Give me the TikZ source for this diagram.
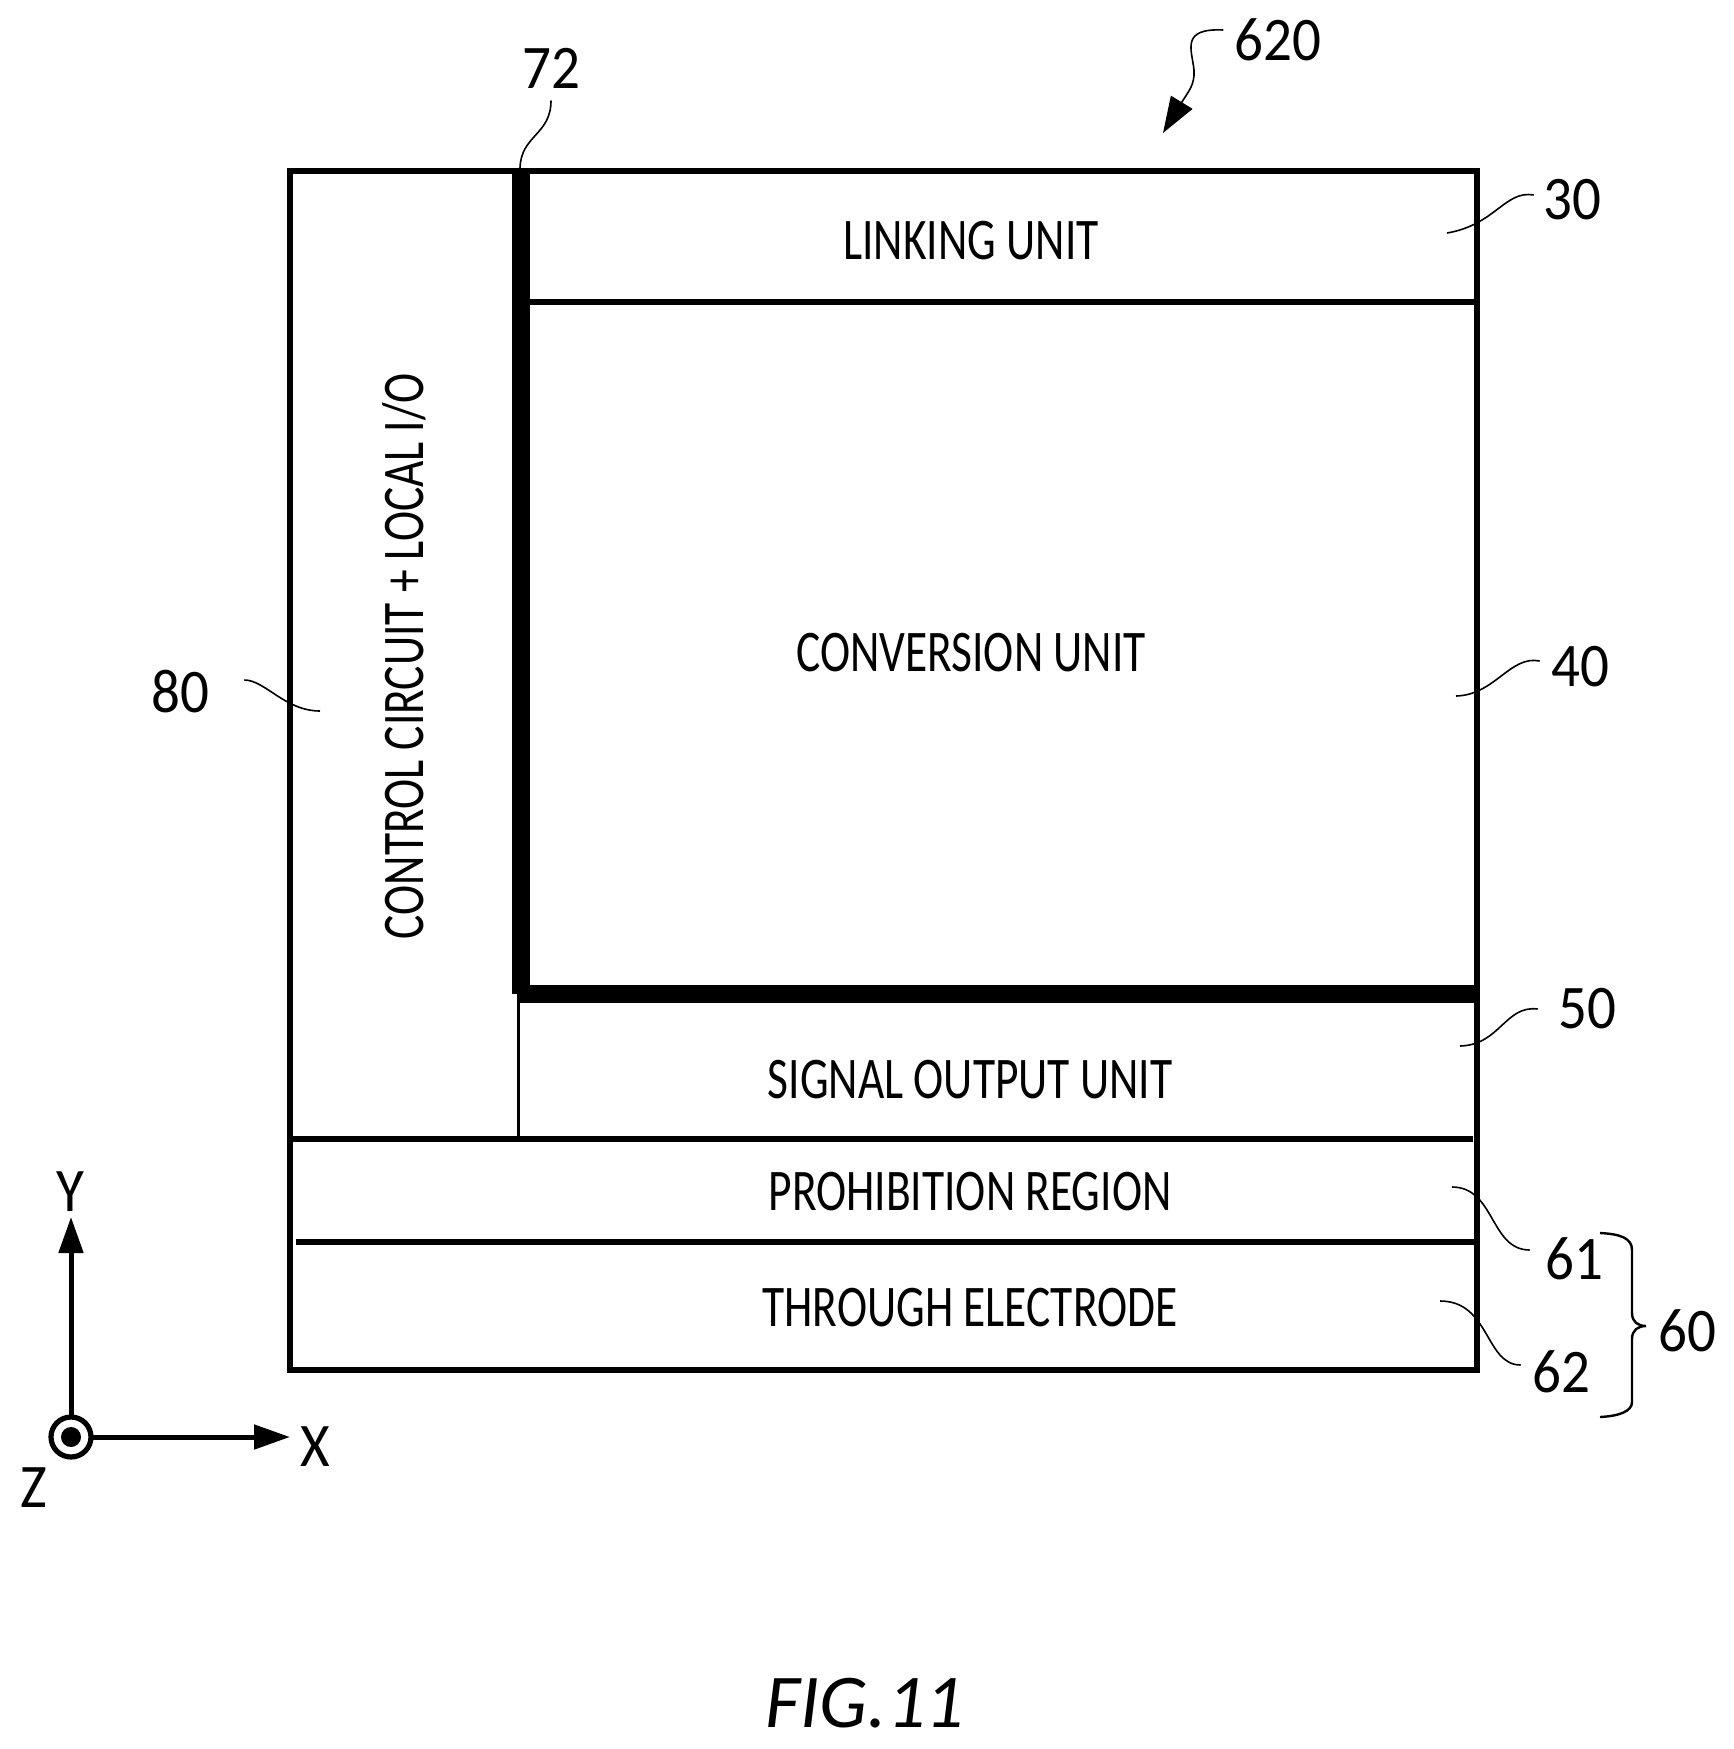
\documentclass[tikz,border=0pt]{standalone}
\usepackage{fontspec}
\setmainfont{Carlito}
\newfontfamily\narrowfont{Carlito}[FakeStretch=0.77]
\newfontfamily\digitfont{Carlito}[FakeStretch=0.92]
\usetikzlibrary{arrows.meta}

\tikzset{
  part/.style={line width=3pt},
  wall/.style={line width=8.7pt},
  lead/.style={line width=0.8pt},
  axis/.style={line width=2.5pt,-{Triangle[length=18pt,width=12pt]}},
  unit/.style={font=\narrowfont\fontsize{29.5}{32}\selectfont,inner sep=0pt},
  ref/.style={font=\digitfont\fontsize{31}{34}\selectfont,inner sep=0pt}
}

\begin{document}
\begin{tikzpicture}[x=0.5pt,y=-0.5pt]
  \useasboundingbox (0,0) rectangle (1733,1749);

  % outer frame
  \draw[part] (290,171) rectangle (1477,1370);

  % layers
  \draw[part] (521,302) -- (1477,302);
  \draw[part] (290,1139) -- (1473,1139);
  \draw[part] (296,1242) -- (1477,1242);
  \draw[line width=1.5pt] (518,994) -- (518,1139);

  % thick wall
  \draw[wall] (521,171) -- (521,994);
  \draw[wall] (517,994) -- (1477,994);

  % unit names
  \node[unit] (link) at (971,241) {LINKING UNIT};
  \node[unit] (conv) at (971,653) {CONVERSION UNIT};
  \node[unit] (sig) at (970,1080) {SIGNAL OUTPUT UNIT};
  \node[unit] (proh) at (970,1192) {PROHIBITION REGION};
  \node[unit] (thru) at (970,1308) {THROUGH ELECTRODE};
  \node[unit,rotate=90] (ctrl) at (404,656) {CONTROL CIRCUIT + LOCAL I/O};
  \node[font=\fontsize{38}{40}\selectfont\itshape,inner sep=0pt] (fig) at (865,1703) {FIG.11};

  % reference numbers
  \node[ref] (r620) at (1278,40) {620};
  \node[ref] (r72) at (551,68) {72};
  \node[ref] (r30) at (1572,200) {30};
  \node[ref] (r40) at (1580,667) {40};
  \node[ref] (r50) at (1587,1009) {50};
  \node[ref] (r61) at (1574,1259) {61};
  \node[ref] (r62) at (1561,1372) {62};
  \node[ref] (r60) at (1687,1331) {60};
  \node[ref] (r80) at (180,692) {80};

  % leaders
  \coordinate (e620) at (1163,133);
  \coordinate (e72) at (520,168);
  \coordinate (e30) at (1447,233);
  \coordinate (e40) at (1456,696);
  \coordinate (e50) at (1460,1046);
  \coordinate (e61) at (1452,1187);
  \coordinate (e62) at (1440,1301);
  \coordinate (e80) at (320,711);

  \draw[lead,-{Triangle[length=18pt,width=12.5pt]}] (r620.west)++(-11,-10) .. controls (1180,28) and (1192,50) .. (1194,70) .. controls (1195,85) and (1188,92) .. (e620);
  \draw[lead] (r72.south)++(0,12) .. controls (551,135) and (521,135) .. (e72);
  \draw[lead] (r30.west)++(-9,-5) .. controls (1505,190) and (1495,225) .. (e30);
  \draw[lead] (r40.west)++(-11,-6) .. controls (1510,655) and (1495,695) .. (e40);
  \draw[lead] (r50.west)++(-20,0) .. controls (1505,1005) and (1500,1045) .. (e50);
  \draw[lead] (r61.west)++(-15,-9) .. controls (1490,1250) and (1495,1187) .. (e61);
  \draw[lead] (r62.west)++(-11,-7) .. controls (1485,1365) and (1490,1301) .. (e62);
  \draw[lead] (r80.east)++(35,-12) .. controls (265,680) and (285,711) .. (e80);

  % brace for 60
  \coordinate (b0) at (1600,1233);
  \coordinate (b1) at (1600,1417);
  \draw[line width=1.2pt] (b0) .. controls (1620,1234) and (1632,1238) .. (1632,1250)
    -- (1632,1313) .. controls (1632,1322) and (1638,1326) .. (1646,1326)
    .. controls (1638,1326) and (1632,1330) .. (1632,1339)
    -- (1632,1402) .. controls (1632,1411) and (1620,1416) .. (b1);

  % axes
  \coordinate (org) at (71,1437);
  \coordinate (ytip) at (71,1217);
  \coordinate (xtip) at (290,1437);
  \draw[axis] (org) -- (ytip);
  \draw[axis] (org) -- (xtip);
  \draw[line width=2.6pt,fill=white] (org) circle (20);
  \fill (org) circle (10);
  \node[ref] (ax) at (315,1447) {X};
  \node[ref] (ay) at (70,1192) {Y};
  \node[ref] (az) at (34,1488) {Z};
\end{tikzpicture}
\end{document}
